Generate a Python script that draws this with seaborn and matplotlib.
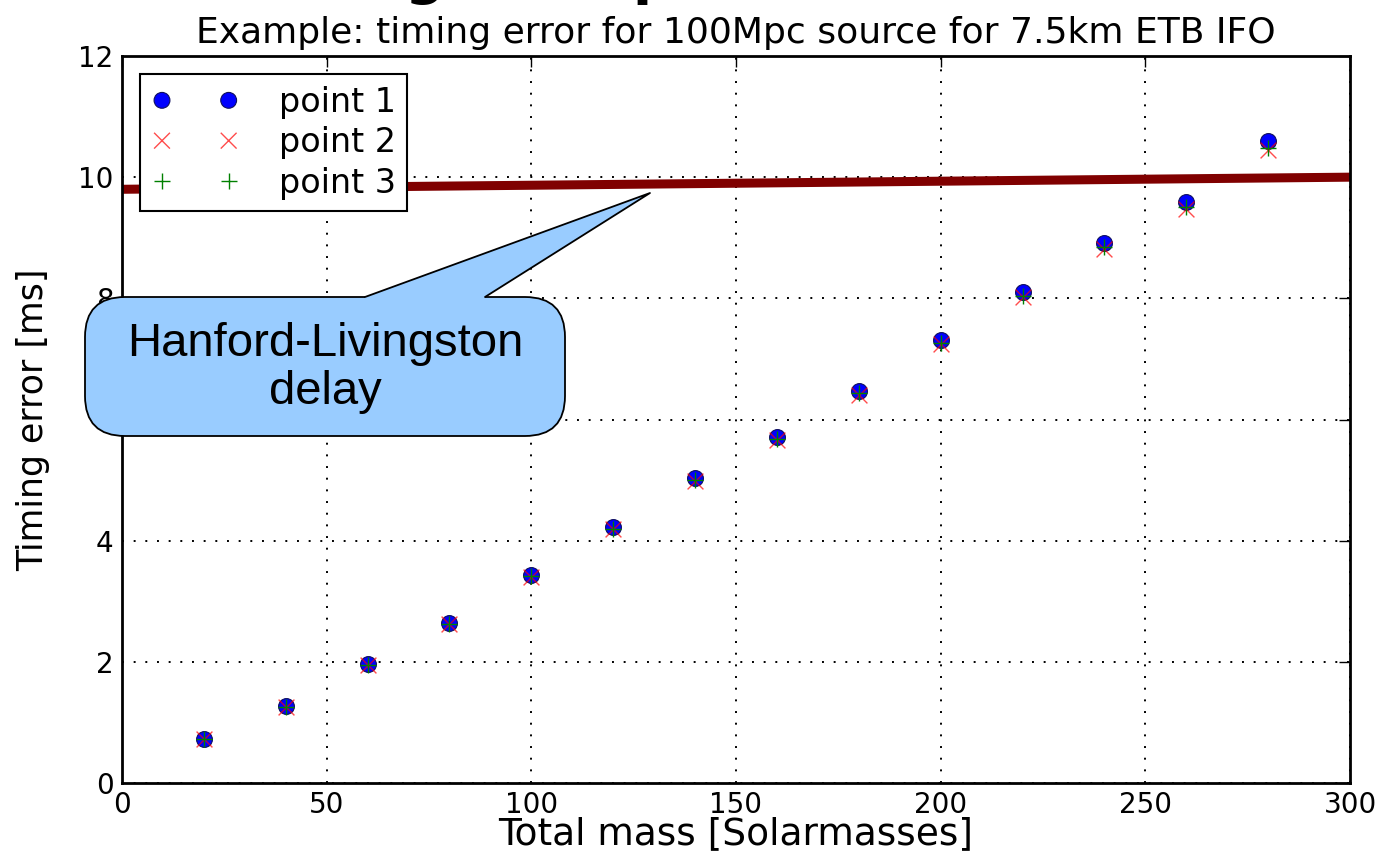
import numpy as np
import pandas as pd
import matplotlib
matplotlib.use("Agg")
import matplotlib.pyplot as plt
import seaborn as sns
from matplotlib.patches import FancyBboxPatch, Polygon
from matplotlib.lines import Line2D
from matplotlib.transforms import IdentityTransform

# ---- data ----
mass = [20, 40, 60, 80, 100, 120, 140, 160, 180, 200, 220, 240, 260, 280]
point1 = [0.73, 1.27, 1.96, 2.64, 3.43, 4.22, 5.03, 5.71, 6.47, 7.31, 8.10, 8.91, 9.59, 10.59]
point2 = [0.72, 1.26, 1.95, 2.62, 3.40, 4.19, 4.99, 5.66, 6.41, 7.24, 8.02, 8.82, 9.48, 10.45]
point3 = [0.72, 1.26, 1.95, 2.63, 3.41, 4.20, 5.00, 5.68, 6.43, 7.26, 8.04, 8.84, 9.51, 10.48]
delay_x = [0, 300]
delay_y = [9.80, 10.00]
series_labels = ["point 1", "point 2", "point 3"]
xticks = [0, 50, 100, 150, 200, 250, 300]
yticks = [0, 2, 4, 6, 8, 10, 12]

sns.set_theme(style="white")
plt.rcParams["font.family"] = ["DejaVu Sans"]
plt.rcParams["text.color"] = "black"
plt.rcParams["axes.labelcolor"] = "black"

W, H = 1379, 852
fig = plt.figure(figsize=(W / 100, H / 100), dpi=100)
ax = fig.add_axes([122 / W, 1 - 783 / H, (1350 - 122) / W, (783 - 56) / H])

sns.lineplot(x=delay_x, y=delay_y, ax=ax, color="#800000", linewidth=6.5,
             label="_nolegend_", legend=False, zorder=2)

sns.scatterplot(x=mass, y=point1, ax=ax, marker="o", color="blue", s=130,
                edgecolor="#101060", linewidth=0.8, label=series_labels[0], zorder=3)
sns.scatterplot(x=mass, y=point2, ax=ax, marker="x", color="red", s=130,
                linewidth=1.0, label=series_labels[1], zorder=4, alpha=0.7)
sns.scatterplot(x=mass, y=point3, ax=ax, marker="+", color="green", s=130,
                linewidth=1.0, label=series_labels[2], zorder=5)

ax.set_xlim(0, 300)
ax.set_ylim(0, 12)
ax.set_xticks(xticks)
ax.set_yticks(yticks)
ax.tick_params(direction="in", length=8, width=1, top=True, right=True,
               labelsize=20, colors="black", pad=6)
for s in ax.spines.values():
    s.set_color("black")
    s.set_linewidth(2)
ax.grid(True, linestyle=(0, (1, 5)), color="black", linewidth=1.4)
ax.set_axisbelow(True)

ax.set_xlabel("Total mass [Solarmasses]", fontsize=27, labelpad=-2)
ax.set_ylabel("Timing error [ms]", fontsize=25, labelpad=20)
ax.set_title("Example: timing error for 100Mpc source for 7.5km ETB IFO",
             fontsize=26, pad=9)

leg = ax.legend(loc="upper left", scatterpoints=2, scatteryoffsets=[0.5],
                fontsize=24, frameon=True,
                fancybox=False, edgecolor="black", borderpad=0.35,
                handlelength=2.6, handletextpad=1.2, labelspacing=0.22,
                borderaxespad=0.55)
leg.get_frame().set_linewidth(1.5)
leg.get_frame().set_alpha(1)
leg.set_zorder(10)

# slide title (mostly cut off at the top)
fig.text(232 / W, 1 + 7 / H, "Timing example", fontsize=40, fontweight="bold",
         ha="left", va="baseline", color="black")

# callout bubble (in pixel coordinates, origin bottom-left)
tr = IdentityTransform()
bx0, bx1 = 85, 565
by0, by1 = H - 436, H - 297
bubble = FancyBboxPatch((bx0 + 30, by0 + 30), (bx1 - bx0) - 60, (by1 - by0) - 60,
                        boxstyle="round,pad=30,rounding_size=40",
                        transform=tr, facecolor="#99ccff", edgecolor="black",
                        linewidth=1.3, zorder=20)
fig.patches.append(bubble)
tip = (650, H - 193)
base_l = (365, by1)
base_r = (485, by1)
pointer = Polygon([(base_l[0], by1 - 3), base_l, tip, base_r, (base_r[0], by1 - 3)],
                  closed=True, transform=tr, facecolor="#99ccff",
                  edgecolor="none", zorder=21)
fig.patches.append(pointer)
fig.lines.append(Line2D([base_l[0], tip[0], base_r[0]], [base_l[1], tip[1], base_r[1]],
                        transform=tr, color="black", linewidth=1.3, zorder=22))
fig.text(325 / W, 1 - 368 / H, "Hanford-Livingston\ndelay", fontsize=34,
         family="Liberation Sans", ha="center", va="center", color="black",
         linespacing=1.12, zorder=23)

fig.savefig("out.png", dpi=100)
